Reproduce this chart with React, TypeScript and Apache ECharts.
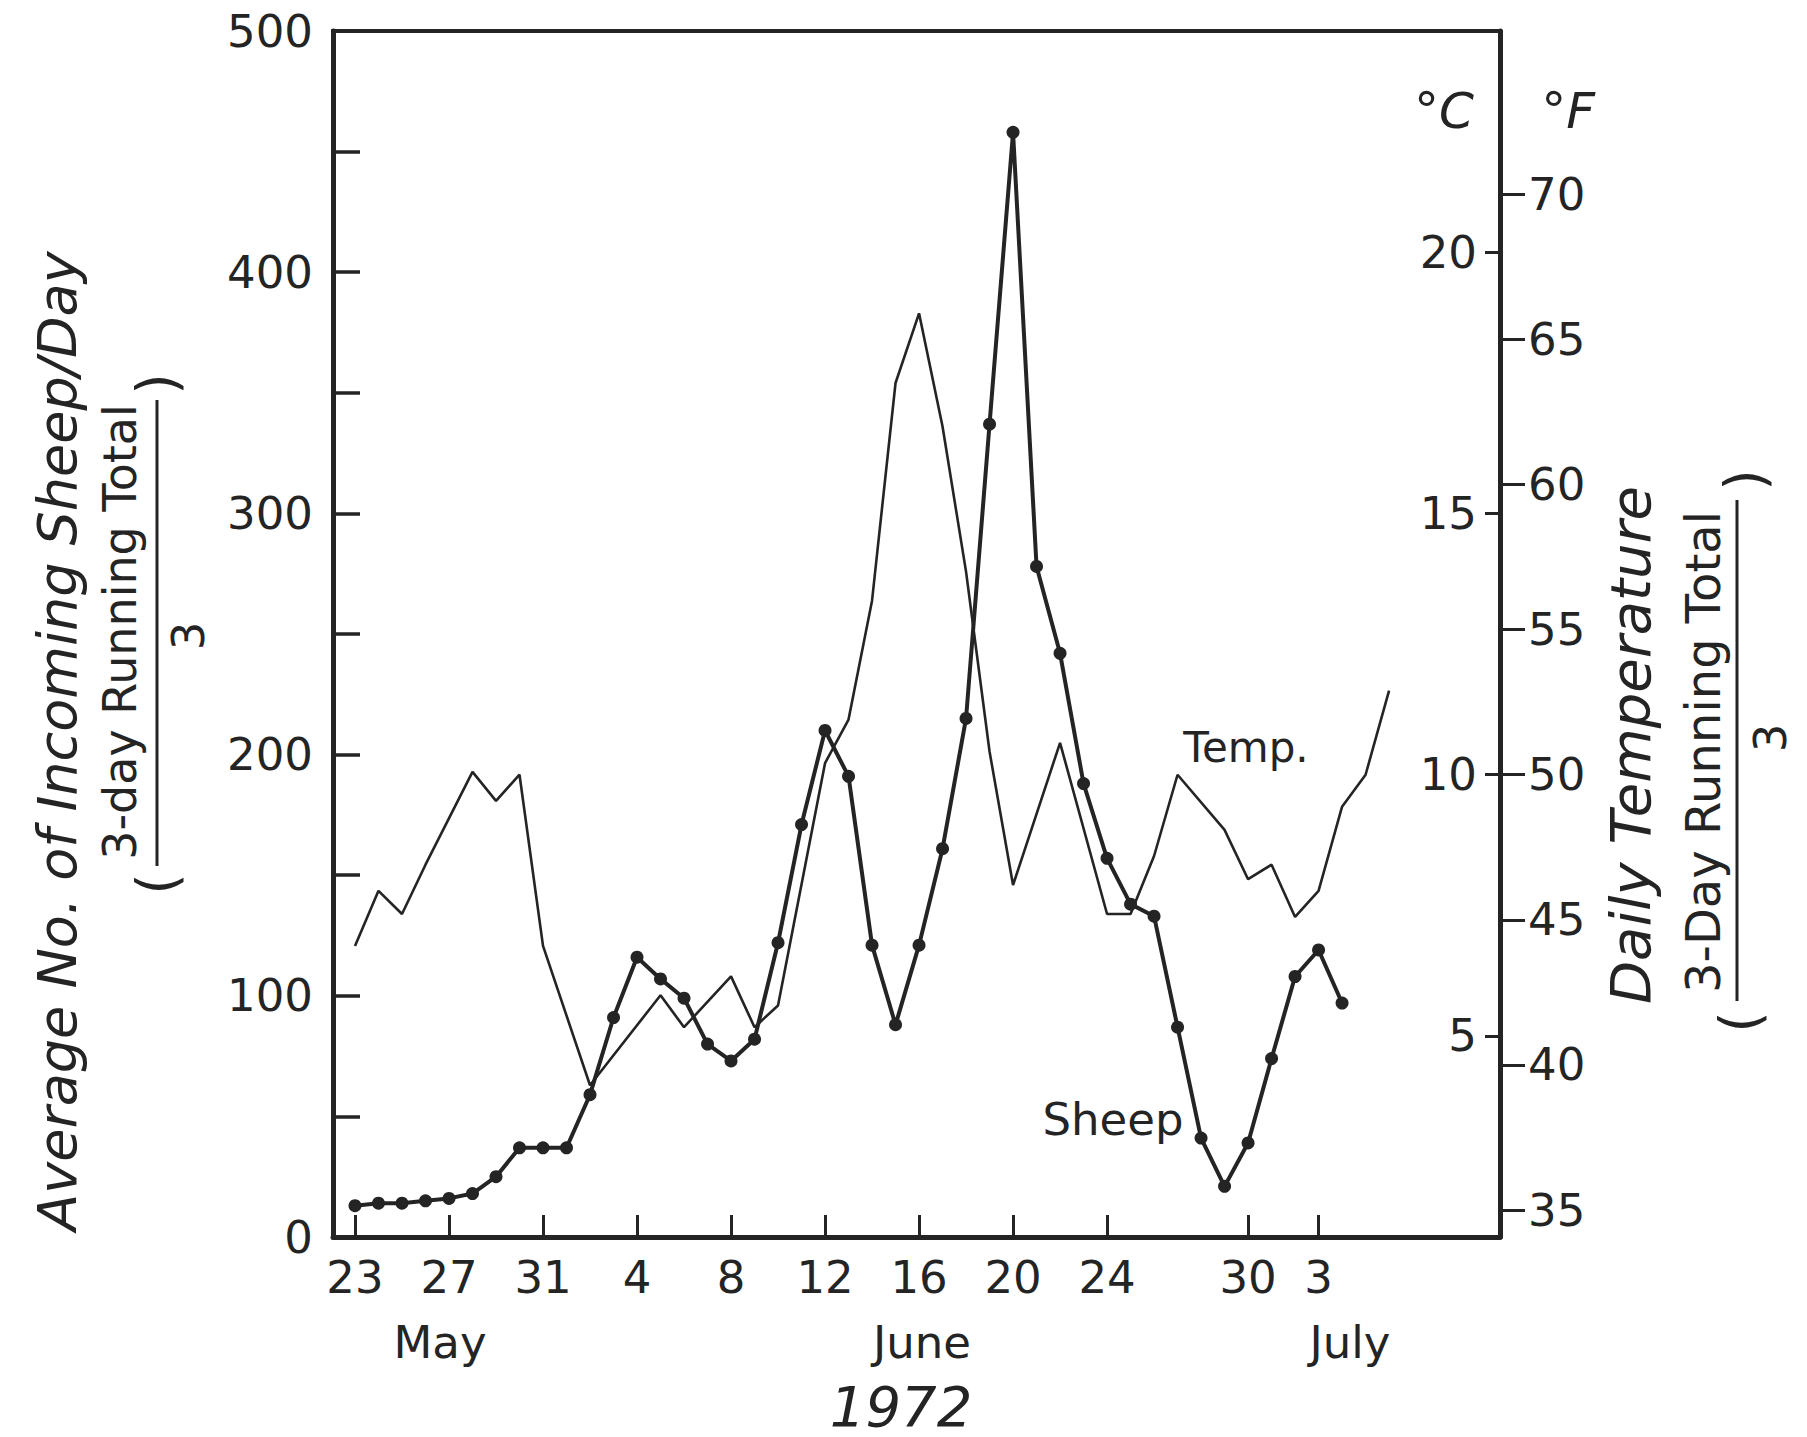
import React, { useEffect, useRef } from 'react';
import * as echarts from 'echarts';

// ---- data ----
// days counted from 23 May 1972 (index 0) to 4 July (index 42)
const sheepPerDay = [
  13, 14, 14, 15, 16, 18, 25, 37, 37, 37,
  59, 91, 116, 107, 99, 80, 73, 82, 122, 171,
  210, 191, 121, 88, 121, 161, 215, 337, 458, 278,
  242, 188, 157, 138, 133, 87, 41, 21, 39, 74,
  108, 119, 97,
];
const tempDays = [
  0, 1, 2, 3, 5, 6, 7, 8, 10,
  13, 14, 16, 17, 18,
  20, 21, 22, 23, 24, 25, 26, 27, 28,
  30, 32, 33, 34, 35,
  37, 38, 39, 40, 41, 42, 43, 44,
];
const tempF = [
  44.1, 46.0, 45.2, 46.9, 50.1, 49.1, 50.0, 44.1, 39.3,
  42.4, 41.3, 43.05, 41.3, 42.05,
  50.4, 51.9, 56.0, 63.5, 65.9, 62.0, 57.0, 50.8, 46.2,
  51.1, 45.2, 45.2, 47.2, 50.0,
  48.1, 46.4, 46.9, 45.1, 46.0, 48.9, 50.0, 52.9,
];
const xTickDays = [0, 4, 8, 12, 16, 20, 24, 28, 32, 38, 41];
const xTickLabels = ['23', '27', '31', '4', '8', '12', '16', '20', '24', '30', '3'];
const sheepTicks = [0, 100, 200, 300, 400, 500];
const fTicks = [35, 40, 45, 50, 55, 60, 65, 70];
const cTicks = [5, 10, 15, 20];
const monthLabels = ['May', 'June', 'July'];
const yearLabel = '1972';

const W = 1807;
const H = 1437;
const INK = '#242424';
const FONT = "'DejaVu Sans', 'Liberation Sans', sans-serif";

const X_MIN = -0.936;
const X_MAX = 48.72;
const F_MIN = 34.07;
const F_MAX = 75.63;
const C_MIN = (F_MIN - 32) / 1.8;
const C_MAX = (F_MAX - 32) / 1.8;

function txt(text: string, x: number, y: number, size: number, opts: any = {}) {
  return {
    type: 'text',
    x,
    y,
    rotation: opts.rotation || 0,
    silent: true,
    style: {
      text,
      fontSize: size,
      fontFamily: FONT,
      fontStyle: opts.italic ? 'italic' : 'normal',
      fill: INK,
      align: 'center',
      verticalAlign: 'middle',
      textAlign: 'center',
      textVerticalAlign: 'middle',
    },
  };
}

function vline(x: number, y1: number, y2: number, w: number) {
  return {
    type: 'line',
    silent: true,
    shape: { x1: x, y1, x2: x, y2 },
    style: { stroke: INK, lineWidth: w },
  };
}

export default function App() {
  const ref = useRef<HTMLDivElement>(null);

  useEffect(() => {
    if (!ref.current) return;
    const chart = echarts.init(ref.current, undefined, { renderer: 'svg', width: W, height: H });
    const R = Math.PI / 2;

    const option: any = {
      animation: false,
      backgroundColor: '#ffffff',
      textStyle: { fontFamily: FONT, color: INK },
      grid: {
        left: 333,
        right: W - 1500,
        top: 31,
        bottom: H - 1237,
        show: true,
        borderColor: INK,
        borderWidth: 4,
        backgroundColor: 'transparent',
        containLabel: false,
        outerBoundsMode: 'none',
      },
      xAxis: {
        type: 'value',
        min: X_MIN,
        max: X_MAX,
        axisLine: { show: true, onZero: false, lineStyle: { color: INK, width: 5 } },
        axisTick: {
          show: true,
          inside: true,
          length: 22,
          customValues: xTickDays,
          lineStyle: { color: INK, width: 3 },
        },
        axisLabel: {
          show: true,
          customValues: xTickDays,
          margin: 18,
          fontSize: 45,
          fontFamily: FONT,
          color: INK,
          formatter: (v: number) => {
            const i = xTickDays.indexOf(Math.round(v));
            return i >= 0 ? xTickLabels[i] : '';
          },
        },
        splitLine: { show: false },
      },
      yAxis: [
        {
          type: 'value',
          position: 'left',
          min: 0,
          max: 500,
          interval: 50,
          axisLine: { show: true, onZero: false, lineStyle: { color: INK, width: 5 } },
          axisTick: { show: true, inside: true, length: 27, lineStyle: { color: INK, width: 3.5 } },
          axisLabel: {
            margin: 20,
            fontSize: 45,
            fontFamily: FONT,
            color: INK,
            formatter: (v: number) => (sheepTicks.indexOf(v) >= 0 ? String(v) : ''),
          },
          splitLine: { show: false },
        },
        {
          type: 'value',
          position: 'right',
          min: F_MIN,
          max: F_MAX,
          axisLine: { show: true, onZero: false, lineStyle: { color: INK, width: 5 } },
          axisTick: {
            show: true,
            inside: false,
            length: 25,
            customValues: fTicks,
            lineStyle: { color: INK, width: 3 },
          },
          axisLabel: {
            customValues: fTicks,
            margin: 28,
            fontSize: 45,
            fontFamily: FONT,
            color: INK,
            formatter: (v: number) => String(Math.round(v)),
          },
          splitLine: { show: false },
        },
        {
          type: 'value',
          position: 'right',
          min: C_MIN,
          max: C_MAX,
          axisLine: { show: false, onZero: false },
          axisTick: {
            show: true,
            inside: true,
            length: 15,
            customValues: cTicks,
            lineStyle: { color: INK, width: 3 },
          },
          axisLabel: {
            inside: true,
            customValues: cTicks,
            margin: 23,
            fontSize: 45,
            fontFamily: FONT,
            color: INK,
            formatter: (v: number) => String(Math.round(v)),
          },
          splitLine: { show: false },
        },
      ],
      series: [
        {
          name: 'Temp.',
          type: 'line',
          yAxisIndex: 1,
          data: tempDays.map((d, i) => [d, tempF[i]]),
          showSymbol: false,
          symbol: 'none',
          lineStyle: { color: INK, width: 2.6 },
          z: 2,
        },
        {
          name: 'Sheep',
          type: 'line',
          yAxisIndex: 0,
          data: sheepPerDay.map((v, i) => [i, v]),
          symbol: 'circle',
          symbolSize: 13,
          itemStyle: { color: INK },
          lineStyle: { color: INK, width: 4 },
          z: 3,
        },
      ],
      graphic: [
        // left axis title
        txt('Average No. of Incoming Sheep/Day', 57, 741, 54, { italic: true, rotation: R }),
        txt('3-day Running Total', 120, 632, 46, { rotation: R }),
        vline(157, 400, 866, 3),
        txt('3', 188, 636, 45, { rotation: R }),
        txt(')', 157, 384, 55, { rotation: R }),
        txt('(', 157, 884, 55, { rotation: R }),
        // right axis title
        txt('Daily Temperature', 1630, 745, 56, { italic: true, rotation: R }),
        txt('3-Day Running Total', 1703, 752, 48, { rotation: R }),
        vline(1737, 500, 1001, 3),
        txt('3', 1770, 738, 45, { rotation: R }),
        txt(')', 1745, 480, 55, { rotation: R }),
        txt('(', 1740, 1022, 55, { rotation: R }),
        // unit labels
        txt('°C', 1444, 111, 50, { italic: true }),
        txt('°F', 1568, 111, 50, { italic: true }),
        // series labels
        txt('Temp.', 1246, 747, 42),
        txt('Sheep', 1113, 1119, 45),
        // months and year
        txt(monthLabels[0], 440, 1342, 45),
        txt(monthLabels[1], 922, 1342, 45),
        txt(monthLabels[2], 1350, 1342, 45),
        txt(yearLabel, 901, 1406, 56, { italic: true }),
      ],
    };

    chart.setOption(option);
    return () => {
      chart.dispose();
    };
  }, []);

  return (
    <div
      ref={ref}
      style={{
        position: 'fixed',
        left: 0,
        top: 0,
        width: W + 'px',
        height: H + 'px',
        background: '#ffffff',
      }}
    />
  );
}
